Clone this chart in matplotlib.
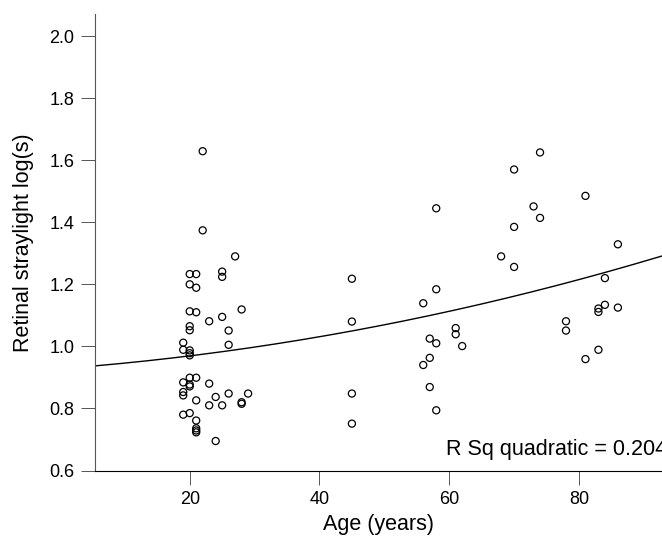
import matplotlib
matplotlib.use('Agg')
import matplotlib.pyplot as plt
import numpy as np

plt.rcParams['font.family'] = ['Liberation Sans', 'DejaVu Sans']

# age (years) and retinal straylight log(s)
age = [22, 22, 27, 20, 21, 25, 25, 20, 21, 20, 21, 28, 23, 25, 20, 20, 26,
       19, 26, 19, 20, 20, 20,
       20, 21, 19, 20, 20, 23, 19, 19, 21, 24, 26, 29, 23, 25, 28, 28,
       19, 20, 21, 21, 21, 21, 24,
       45, 45, 45, 45, 58, 58, 56, 57, 58, 61, 61, 62, 57, 56, 57, 58,
       74, 70, 81, 73, 74, 70, 86, 68, 70, 84, 84, 86, 83, 83, 78, 78, 83, 81]
straylight = [1.629, 1.374, 1.290, 1.233, 1.233, 1.241, 1.224, 1.200, 1.189,
              1.113, 1.110, 1.119, 1.081, 1.095, 1.065, 1.052, 1.051,
              1.012, 1.005, 0.989, 0.987, 0.978, 0.971,
              0.899, 0.899, 0.884, 0.877, 0.871, 0.880, 0.853, 0.842, 0.826,
              0.837, 0.848, 0.848, 0.810, 0.810, 0.820, 0.815,
              0.780, 0.785, 0.761, 0.736, 0.729, 0.723, 0.695,
              1.218, 1.080, 0.848, 0.751, 1.445, 1.184, 1.139, 1.025, 1.010,
              1.059, 1.039, 1.001, 0.963, 0.940, 0.869, 0.794,
              1.625, 1.570, 1.485, 1.451, 1.414, 1.385, 1.329, 1.290, 1.256,
              1.220, 1.134, 1.125, 1.122, 1.111, 1.081, 1.051, 0.989, 0.959]

x_ticks = [20, 40, 60, 80]
y_ticks = [0.6, 0.8, 1.0, 1.2, 1.4, 1.6, 1.8, 2.0]
r_sq_label = 'R Sq quadratic = 0.204'

fig = plt.figure(figsize=(6.62, 5.4), dpi=100)
ax = fig.add_axes([0.1435, 0.1287, 0.8565, 0.8453])

ax.scatter(age, straylight, s=26, facecolors='none', edgecolors='black',
           linewidths=0.9, zorder=3)

# quadratic fit through the points
coef = np.polyfit(age, straylight, 2)
xs = np.linspace(5.4, 92.8, 200)
ax.plot(xs, np.polyval(coef, xs), color='black', lw=1.0)

ax.set_xlim(5.4, 92.8)
ax.set_ylim(0.6, 2.071)
ax.set_xticks(x_ticks)
ax.set_yticks(y_ticks)
ax.set_yticklabels(['%.1f' % v for v in y_ticks])

for s in ['top', 'right']:
    ax.spines[s].set_visible(False)
ax.spines['left'].set_color('#555555')
ax.spines['bottom'].set_color('black')
ax.tick_params(length=10, width=0.7, color='#555555', labelsize=13, pad=5)

ax.set_xlabel('Age (years)', fontsize=15.5, labelpad=4)
ax.set_ylabel('Retinal straylight log(s)', fontsize=15.5, labelpad=11)

ax.text(59.5, 0.65, r_sq_label, fontsize=15.5, ha='left', va='baseline',
        clip_on=False)

fig.savefig('out.png', dpi=100)
